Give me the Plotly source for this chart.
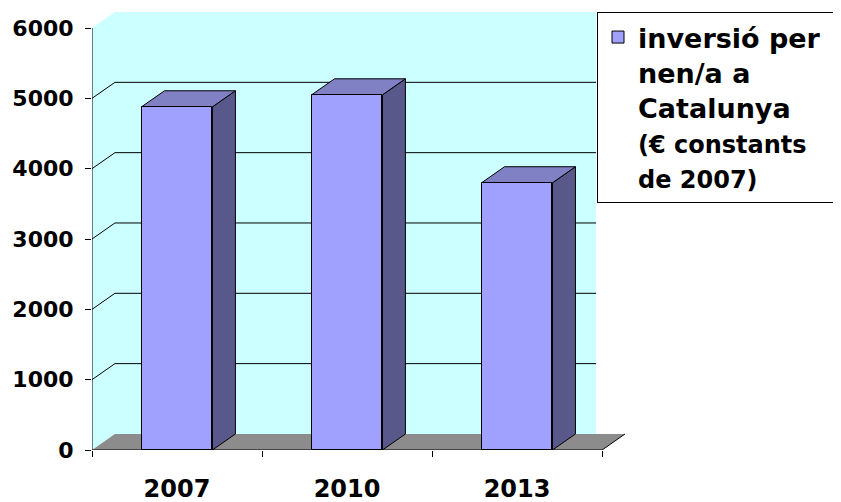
import plotly.graph_objects as go

# ---- data ----
years = ["2007", "2010", "2013"]
values = [4880, 5050, 3800]
y_ticks = [0, 1000, 2000, 3000, 4000, 5000, 6000]

# ---- style / geometry ----
# (the html page body has an 8px margin, so the figure is offset by 8px)
W, H = 833, 494
ML, MR, MT, MB = 84, 216, 4, 52
DX = 0.135          # depth offset in category units
DY = 228            # depth offset in value units
BAR_W = 0.417
YMAX = 6000
WALL_R = 2.465
C_WALL = "#CCFFFF"
C_FRONT = "#A0A0FF"
C_TOP = "#8080C4"
C_SIDE = "#58588A"
C_FLOOR = "#8C8C8C"

xs = list(range(len(years)))
x_left, x_right = -0.5, len(years) - 0.5


def poly(pts):
    return "M " + " L ".join(f"{x},{y}" for x, y in pts) + " Z"


shapes = []
# side wall (left)
shapes.append(dict(type="path", layer="below", xref="x", yref="y",
                   path=poly([(x_left, 0), (x_left, YMAX), (x_left + DX, YMAX + DY), (x_left + DX, DY)]),
                   fillcolor=C_WALL, line=dict(width=0)))
# back wall
shapes.append(dict(type="rect", layer="below", xref="x", yref="y",
                   x0=x_left + DX, x1=WALL_R, y0=DY, y1=YMAX + DY,
                   fillcolor=C_WALL, line=dict(width=0)))
# gridlines
for v in y_ticks[1:-1]:
    shapes.append(dict(type="line", layer="below", xref="x", yref="y",
                       x0=x_left, y0=v, x1=x_left + DX, y1=v + DY,
                       line=dict(color="#000000", width=1)))
    shapes.append(dict(type="line", layer="below", xref="x", yref="y",
                       x0=x_left + DX, y0=v + DY, x1=WALL_R, y1=v + DY,
                       line=dict(color="#000000", width=1)))
# floor
shapes.append(dict(type="path", layer="below", xref="x", yref="y",
                   path=poly([(x_left, 0), (x_right, 0), (x_right + DX, DY), (x_left + DX, DY)]),
                   fillcolor=C_FLOOR, line=dict(width=0)))
shapes.append(dict(type="line", layer="below", xref="x", yref="y",
                   x0=x_right, y0=0, x1=x_right + DX, y1=DY,
                   line=dict(color="#000000", width=1)))
# axis lines
shapes.append(dict(type="line", layer="below", xref="x", yref="y",
                   x0=x_left, y0=0, x1=x_right, y1=0,
                   line=dict(color="#000000", width=1)))
shapes.append(dict(type="line", layer="below", xref="x", yref="y",
                   x0=x_left, y0=0, x1=x_left, y1=YMAX,
                   line=dict(color="#000000", width=1)))
# 3D bar faces
for x, v in zip(xs, values):
    r = x + BAR_W / 2
    l = x - BAR_W / 2
    shapes.append(dict(type="path", layer="below", xref="x", yref="y",
                       path=poly([(r, 0), (r + DX, DY), (r + DX, v + DY), (r, v)]),
                       fillcolor=C_SIDE, line=dict(color="#000000", width=1)))
    shapes.append(dict(type="path", layer="below", xref="x", yref="y",
                       path=poly([(l, v), (r, v), (r + DX, v + DY), (l + DX, v + DY)]),
                       fillcolor=C_TOP, line=dict(color="#000000", width=1)))

legend_label = ("inversió per\u00a0<br>nen/a a<br>Catalunya<br>"
                "<span style='font-size:24px'>(€ constants</span><br>"
                "<span style='font-size:24px'>de 2007)</span>")

fig = go.Figure()
fig.add_trace(go.Bar(x=xs, y=values, width=BAR_W, name=legend_label,
                     marker=dict(color=C_FRONT, line=dict(color="#000000", width=1)),
                     showlegend=True))

plot_w = W - ML - MR
fig.update_layout(
    width=W, height=H,
    margin=dict(l=ML, r=MR, t=MT, b=MB, autoexpand=False),
    paper_bgcolor="#FFFFFF", plot_bgcolor="rgba(0,0,0,0)",
    shapes=shapes,
    showlegend=True,
    legend=dict(x=(589 - ML) / plot_w, y=1.0, xref="paper", yref="paper",
                xanchor="left", yanchor="top", bgcolor="#FFFFFF",
                bordercolor="#000000", borderwidth=1, valign="top",
                font=dict(family="DejaVu Sans", size=27, weight="bold", color="#000000")),
    xaxis=dict(range=[x_left, x_right + DX], tickmode="array", tickvals=xs, ticktext=years,
               ticks="", showgrid=False, zeroline=False, showline=False, automargin=False,
               ticklabelstandoff=22,
               tickfont=dict(family="DejaVu Sans", size=24, weight="bold", color="#000000"),
               minor=dict(tickmode="array", tickvals=[x - 0.5 for x in xs] + [x_right],
                          ticks="outside", ticklen=6, tickcolor="#000000", showgrid=False)),
    yaxis=dict(range=[0, YMAX + DY], tickmode="array", tickvals=y_ticks,
               ticks="outside", ticklen=6, tickcolor="#000000", automargin=False,
               showgrid=False, zeroline=False, showline=False,
               ticklabelstandoff=7,
               tickfont=dict(family="DejaVu Sans", size=22, weight="bold", color="#000000")),
    bargap=0,
)

fig.write_html("out.html")
